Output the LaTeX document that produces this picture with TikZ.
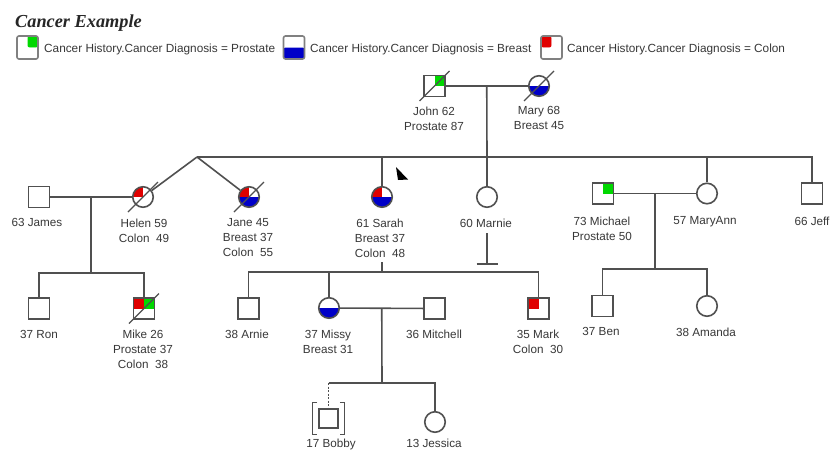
\documentclass[tikz,border=0pt]{standalone}
\usepackage{fontspec}
\setmainfont{Liberation Sans}
\newfontfamily\titlefont{Liberation Serif}
\usetikzlibrary{calc}
\definecolor{lin}{HTML}{505050}
\definecolor{txt}{HTML}{383838}
\definecolor{gr}{HTML}{00D800}
\definecolor{bl}{HTML}{0000C8}
\definecolor{rd}{HTML}{E00000}
\tikzset{
  sym/.style={draw=lin, line width=1.6pt, fill=white, inner sep=0pt},
  male/.style={sym, rectangle, minimum size=21pt},
  female/.style={sym, circle, minimum size=20.5pt},
  lgbox/.style={sym, rectangle, rounded corners=2pt, draw=gray, minimum width=21pt, minimum height=23pt},
  pp/.style n args={3}{path picture={
    \fill[#1] (path picture bounding box.center) rectangle (path picture bounding box.north west);
    \fill[#2] (path picture bounding box.center) rectangle (path picture bounding box.north east);
    \fill[#3] (path picture bounding box.west) rectangle (path picture bounding box.south east);}},
  link/.style={draw=lin, line width=1.6pt},
  slash/.style={draw=lin, line width=1.3pt},
  lab/.style={text=txt, inner sep=0pt, anchor=north, align=center, font=\fontsize{11.7}{15}\selectfont},
  lgtext/.style={text=txt, inner sep=0pt, anchor=base west, font=\fontsize{11.8}{15}\selectfont},
}
\begin{document}
\begin{tikzpicture}[x=1pt,y=-1pt]
\useasboundingbox (0,0) rectangle (837,453);
\fill[white] (0,0) rectangle (837,453);

% title and legend
\node[text=black!85, inner sep=0pt, anchor=base west, font=\titlefont\fontsize{18.3}{20}\selectfont\bfseries\itshape] (title) at (15,27) {Cancer Example};
\node[lgbox, pp={white}{gr}{white}] (lgP) at (27.5,47.5) {};
\node[lgtext] (lgPt) at (44,52) {Cancer History.Cancer Diagnosis = Prostate};
\node[lgbox, pp={white}{white}{bl}] (lgB) at (294,47.5) {};
\node[lgtext] (lgBt) at (310,52) {Cancer History.Cancer Diagnosis = Breast};
\node[lgbox, pp={rd}{white}{white}] (lgC) at (551.5,47.5) {};
\node[lgtext] (lgCt) at (567,52) {Cancer History.Cancer Diagnosis = Colon};

% individuals
\node[male, pp={white}{gr}{white}] (john) at (434.5,86) {};
\node[female, pp={white}{white}{bl}] (mary) at (539,86) {};
\node[male] (james) at (39,197) {};
\node[female, pp={rd}{white}{white}] (helen) at (143,197) {};
\node[female, pp={rd}{white}{bl}] (jane) at (249,197) {};
\node[female, pp={rd}{white}{bl}] (sarah) at (382,197) {};
\node[female] (marnie) at (487,197) {};
\node[male, pp={white}{gr}{white}] (michael) at (603,193.5) {};
\node[female] (maryann) at (707,193.5) {};
\node[male] (jeff) at (812,193.5) {};
\node[male] (ron) at (39,308.5) {};
\node[male, pp={rd}{gr}{white}] (mike) at (144,308.5) {};
\node[male] (arnie) at (248.5,308.5) {};
\node[female, pp={white}{white}{bl}] (missy) at (329,308) {};
\node[male] (mitchell) at (434.5,308.5) {};
\node[male, pp={rd}{white}{white}] (mark) at (538.5,308.5) {};
\node[male] (ben) at (602.5,306) {};
\node[female] (amanda) at (707,306) {};
\node[male, minimum size=19pt] (bobby) at (328.5,418.5) {};
\node[female] (jessica) at (435,422) {};

% adoption brackets round Bobby
\draw[slash] ([shift={(-1,-6)}]bobby.north west) -- ++(-5,0) -- ([shift={(-6,6)}]bobby.south west) -- ++(5,0);
\draw[slash] ([shift={(1,-6)}]bobby.north east) -- ++(5,0) -- ([shift={(6,6)}]bobby.south east) -- ++(-5,0);

% deceased slashes
\foreach \p in {john,mary,helen,jane,mike}
  \draw[slash] ([shift={(-15,15)}]\p.center) -- ([shift={(15,-15)}]\p.center);

% labels
\node[lab] (johnL) at (434,106.5) {John 62\\Prostate 87};
\node[lab] (maryL) at (539,106.5) {Mary 68\\Breast 45};
\node[lab] (jamesL) at (37,218.5) {63 James};
\node[lab] (helenL) at (144,218.5) {Helen 59\\Colon\ \ 49};
\node[lab] (janeL) at (248,218.5) {Jane 45\\Breast 37\\Colon\ \ 55};
\node[lab] (sarahL) at (380,218.5) {61 Sarah\\Breast 37\\Colon\ \ 48};
\node[lab] (marnieL) at (486,218.5) {60 Marnie};
\node[lab] (michaelL) at (602,216.5) {73 Michael\\Prostate 50};
\node[lab] (maryannL) at (705,216.5) {57 MaryAnn};
\node[lab] (jeffL) at (812,216.5) {66 Jeff};
\node[lab] (ronL) at (39,330) {37 Ron};
\node[lab] (mikeL) at (143,330) {Mike 26\\Prostate 37\\Colon\ \ 38};
\node[lab] (arnieL) at (247,330) {38 Arnie};
\node[lab] (missyL) at (328,330) {37 Missy\\Breast 31};
\node[lab] (mitchellL) at (434,330) {36 Mitchell};
\node[lab] (markL) at (538,330) {35 Mark\\Colon\ \ 30};
\node[lab] (benL) at (601,327.5) {37 Ben};
\node[lab] (amandaL) at (706,327.5) {38 Amanda};
\node[lab] (bobbyL) at (331,438.5) {17 Bobby};
\node[lab] (jessicaL) at (434,438.5) {13 Jessica};

% connectors
\coordinate (twin) at (197,157);
\coordinate (sib1) at (487,157);
\draw[link] (john) -- (mary);
\draw[link] ($(john)!0.5!(mary)$) -- (sib1);
\draw[link] (twin) -| (jeff);
\draw[link] (twin) -- (helen);
\draw[link] (twin) -- (jane);
\draw[link] (sarah) -- (sarah |- twin);
\draw[link] (marnie) -- (sib1);
\draw[link] (maryann) -- (maryann |- twin);

\draw[link] (james) -- (helen);
\coordinate (s2) at (91,273);
\draw[link] ($(james)!0.5!(helen)$) -- (s2);
\draw[link] (ron) |- (s2) -| (mike);

\coordinate (sTop) at (382,262);
\coordinate (s3) at (382,272);
\draw[link] (sTop) -- (s3);
\draw[link] (arnie) |- (s3) -| (mark);
\draw[link] (missy) -- (missy |- s3);

\draw[link] (missy) -- (mitchell);
\coordinate (s4) at (382,383);
\draw[link] ($(missy)!0.5!(mitchell)$) -- (s4);
\draw[link] (bobby |- s4) -| (jessica);
\draw[link, dash pattern=on 2pt off 1.5pt] (bobby |- s4) -- (bobby);

\draw[link] (michael) -- (maryann);
\coordinate (s5) at (655,269);
\draw[link] ($(michael)!0.5!(maryann)$) -- (s5);
\draw[link] (ben) |- (s5) -| (amanda);

\coordinate (mTop) at (487,233);
\coordinate (mEnd) at (487,264);
\draw[link] (mTop) -- (mEnd);
\draw[link] ([xshift=-10.5pt]mEnd) -- ([xshift=10.5pt]mEnd);

% mouse pointer
\fill[black] (396,167) -- (398,180) -- (408,179.5) -- cycle;
\end{tikzpicture}
\end{document}
